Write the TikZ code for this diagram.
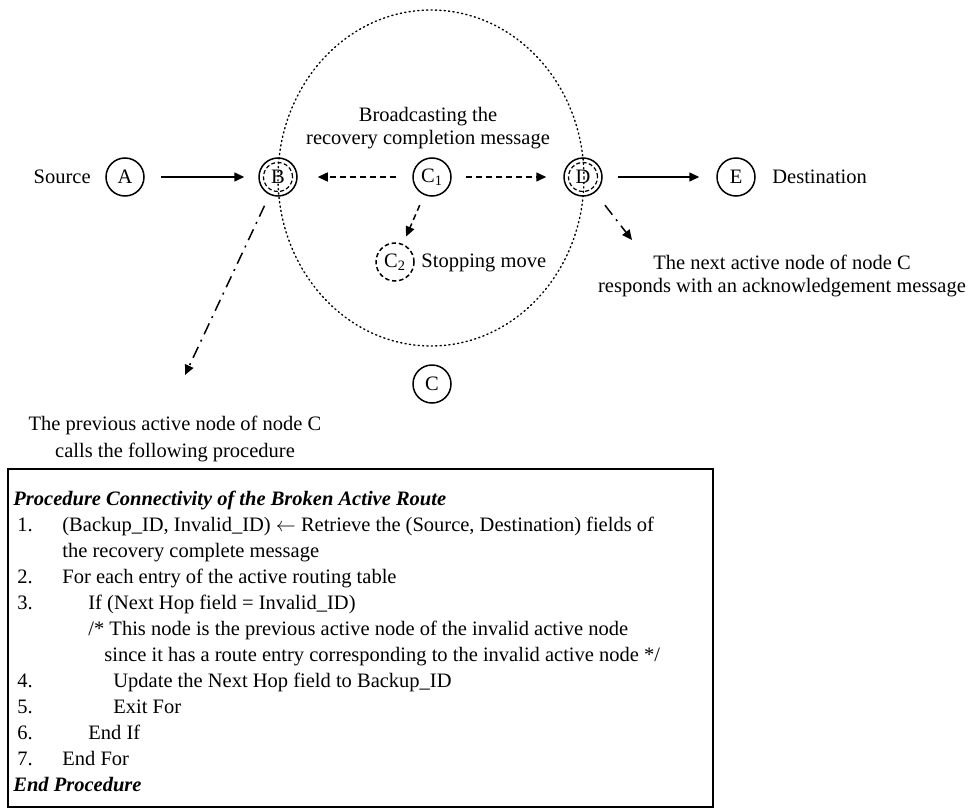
\documentclass[tikz,border=0pt]{standalone}
\usepackage{fontspec}
\setmainfont{Liberation Serif}
\usetikzlibrary{arrows.meta}
\begin{document}
\begin{tikzpicture}[x=0.5pt,y=-0.5pt,
  every node/.style={font=\fontsize{10.25}{11.5}\selectfont},
  nd/.style={circle,draw,line width=0.75pt,minimum size=19pt,inner sep=0pt},
  inner/.style={circle,draw,dash pattern=on 2pt off 1.2pt,line width=0.6pt,minimum size=14.5pt,inner sep=0pt},
  lbl/.style={align=center,inner sep=0pt},
  arr/.style={-{Triangle[length=5pt,width=4.5pt]},line width=0.75pt},
  darr/.style={arr,dash pattern=on 3pt off 2pt},
  ddarr/.style={arr,dash pattern=on 6pt off 3pt on 1pt off 3pt},
  ring/.style={line width=0.7pt,dash pattern=on 0.6pt off 1.6pt,line cap=round},
  ln/.style={anchor=base west,inner sep=0pt},
  num/.style={anchor=base west,inner sep=0pt}]
\useasboundingbox (0,0) rectangle (973,808);
% range of node C's radio
\draw[ring] (431,178) ellipse [x radius=153, y radius=168];
% nodes of the route
\node[nd] (A) at (125,177) {A};
\node[nd] (B) at (278,177) {B};
\node[inner] (Bi) at (B) {};
\node[nd] (C1) at (432,177) {C\textsubscript{1}};
\node[nd] (D) at (583,177) {D};
\node[inner] (Di) at (D) {};
\node[nd] (E) at (736,177) {E};
\node[nd,dash pattern=on 2.2pt off 1.4pt] (C2) at (395,262) {C\textsubscript{2}};
\node[nd] (C) at (432,384) {C};
% labels
\node[lbl,anchor=east] (src) at (91,177) {Source};
\node[lbl,anchor=west] (dst) at (772,177) {Destination};
\node[lbl,anchor=west] (stop) at (421,263) {Stopping move};
\node[lbl] (bc) at (428,128) {Broadcasting the\\recovery completion message};
\node[lbl] (nxt) at (782,276) {The next active node of node C\\responds with an acknowledgement message};
\node[lbl,align=center] (prv) at (175,439) {The previous active node of node C\\[2pt]calls the following procedure};
\coordinate (pt) at (185,375);
\coordinate (nt) at (632,240);
% connectors
\draw[arr,shorten <=8pt,shorten >=7pt] (A) -- (B);
\draw[darr,shorten <=8pt,shorten >=10pt] (C1) -- (B);
\draw[darr,shorten <=7pt,shorten >=8.5pt] (C1) -- (D);
\draw[arr,shorten <=7.5pt,shorten >=8.5pt] (D) -- (E);
\draw[darr,shorten <=5.5pt,shorten >=4pt] (C1) -- (C2);
\draw[ddarr,shorten <=6pt] (B) -- (pt);
\draw[ddarr,shorten <=8pt] (D) -- (nt);
% procedure box
\node[draw,line width=1pt,anchor=north west,minimum width=705*0.5pt,minimum height=338*0.5pt,inner sep=0pt] (box) at (7,468) {};
\node[ln] (p0) at (13,505) {\textbf{\textit{Procedure Connectivity of the Broken Active Route}}};
\node[num] (n1) at (17,531) {1.};
\node[ln] (l1) at (62,531) {(Backup\_ID, Invalid\_ID) $\leftarrow$ Retrieve the (Source, Destination) fields of};
\node[ln] (l1b) at (62,557) {the recovery complete message};
\node[num] (n2) at (17,583) {2.};
\node[ln] (l2) at (62,583) {For each entry of the active routing table};
\node[num] (n3) at (17,609) {3.};
\node[ln] (l3) at (88,609) {If (Next Hop field = Invalid\_ID)};
\node[ln] (c1) at (88,635) {/* This node is the previous active node of the invalid active node};
\node[ln] (c2) at (104,661) {since it has a route entry corresponding to the invalid active node */};
\node[num] (n4) at (17,687) {4.};
\node[ln] (l4) at (113,687) {Update the Next Hop field to Backup\_ID};
\node[num] (n5) at (17,713) {5.};
\node[ln] (l5) at (113,713) {Exit For};
\node[num] (n6) at (17,739) {6.};
\node[ln] (l6) at (88,739) {End If};
\node[num] (n7) at (17,765) {7.};
\node[ln] (l7) at (62,765) {End For};
\node[ln] (p9) at (13,791) {\textbf{\textit{End Procedure}}};
\end{tikzpicture}
\end{document}
